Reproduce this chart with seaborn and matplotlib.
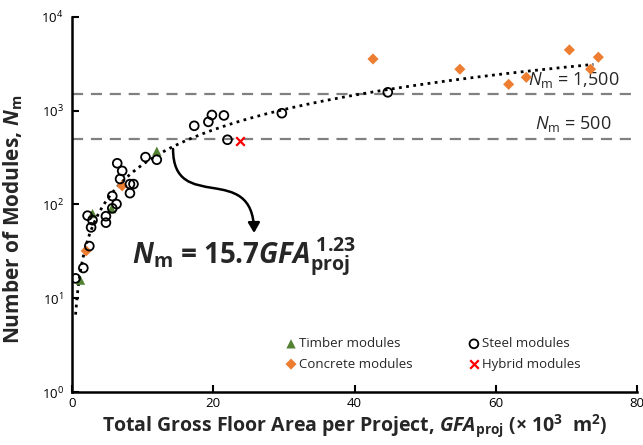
import numpy as np
import pandas as pd
import matplotlib
matplotlib.use("Agg")
import matplotlib.pyplot as plt
import seaborn as sns
from matplotlib.path import Path
from matplotlib.patches import FancyArrowPatch

# ---- data ----
steel_x = [0.5, 1.6, 2.2, 2.45, 2.7, 2.9, 4.8, 4.8, 5.7, 5.7, 6.3, 6.4, 6.8, 7.1,
           8.2, 8.7, 8.2, 10.4, 12.0, 17.3, 19.3, 19.8, 21.5, 22.0, 29.7, 44.7]
steel_y = [16.3, 21, 76, 36, 57, 68, 75, 64, 123, 91, 101, 275, 187, 228,
           165, 165, 132, 320, 300, 690, 760, 900, 890, 490, 940, 1570]
timber_x = [1.2, 2.9, 5.6, 12.0]
timber_y = [15.6, 80, 90, 370]
concrete_x = [2.0, 7.1, 42.6, 54.9, 61.8, 64.3, 70.4, 73.4, 74.5]
concrete_y = [32, 158, 3560, 2770, 1910, 2270, 4450, 2770, 3720]
hybrid_x = [23.8]
hybrid_y = [480]
fit_a, fit_b = 15.7, 1.23
fit_range = (0.5, 73.8)
thresholds = [1500, 500]
threshold_labels = ["1,500", "500"]

sns.set_style("white")
FONT = 'Open Sans'
plt.rcParams['font.family'] = [FONT, 'DejaVu Sans']
plt.rcParams['mathtext.fontset'] = 'custom'
plt.rcParams['mathtext.rm'] = FONT
plt.rcParams['mathtext.it'] = FONT + ':italic'
plt.rcParams['mathtext.bf'] = FONT + ':bold'
plt.rcParams['mathtext.bfit'] = FONT + ':bold:italic'

fig = plt.figure(figsize=(6.43, 4.45), dpi=100)
ax = fig.add_axes([0.112, 0.119, 0.879, 0.843])

# thresholds
for t, lab in zip(thresholds, threshold_labels):
    ax.axhline(t, color='#808080', lw=1.6, ls=(0, (5, 3.5)), zorder=1)
    ax.text(71.0, t * 1.12, r"$N_\mathrm{m}$ = " + lab, fontsize=13, ha='center',
            va='bottom', zorder=2)

# fit
fx = np.linspace(fit_range[0], fit_range[1], 300)
fit_df = pd.DataFrame({"x": fx, "y": fit_a * fx ** fit_b})
sns.lineplot(data=fit_df, x="x", y="y", ax=ax, color='black', lw=2.0, ls=(0, (1, 1.6)), zorder=3)

# scatter
sdf = pd.DataFrame({"x": steel_x, "y": steel_y})
tdf = pd.DataFrame({"x": timber_x, "y": timber_y})
cdf = pd.DataFrame({"x": concrete_x, "y": concrete_y})
hdf = pd.DataFrame({"x": hybrid_x, "y": hybrid_y})
sns.scatterplot(data=tdf, x="x", y="y", ax=ax, marker='^', color='#548235', s=45,
                edgecolor='none', label='Timber modules', zorder=5)
sns.scatterplot(data=cdf, x="x", y="y", ax=ax, marker='D', color='#ED7D31', s=32,
                edgecolor='none', label='Concrete modules', zorder=5)
sns.scatterplot(data=sdf, x="x", y="y", ax=ax, marker='o', facecolor='none',
                edgecolor='black', linewidth=1.3, s=40, label='Steel modules', zorder=6)
sns.scatterplot(data=hdf, x="x", y="y", ax=ax, marker='x', color='red', s=38,
                linewidth=1.6, label='Hybrid modules', zorder=6)

ax.set_yscale('log')
ax.set_xlim(0, 80)
ax.set_ylim(1, 1e4)
ax.set_xticks([0, 20, 40, 60, 80])
ax.set_yticks([1, 10, 100, 1000, 10000])
ax.yaxis.set_minor_locator(matplotlib.ticker.NullLocator())
ax.tick_params(axis='both', direction='in', length=5, width=1.5, labelsize=9.5, colors='black',
               left=True, bottom=True)
ax.tick_params(axis='y', pad=6)
for sp in ['top', 'right']:
    ax.spines[sp].set_visible(False)
for sp in ['left', 'bottom']:
    ax.spines[sp].set_color('black')
    ax.spines[sp].set_linewidth(1.8)

ax.set_xlabel(r"Total Gross Floor Area per Project, $\mathbfit{GFA}_\mathbf{proj}$ (× 10$^\mathbf{3}$  m$^\mathbf{2}$)",
              fontsize=14, fontweight='bold', labelpad=2)
ax.set_ylabel(r"Number of Modules, $\mathbfit{N}_\mathbf{m}$", fontsize=15, fontweight='bold', labelpad=2)
ax.yaxis.set_label_coords(-0.083, 0.46)

leg = ax.legend(loc='upper left', bbox_to_anchor=(0.37, 0.16), ncol=2, frameon=False,
                fontsize=9.5, handlelength=0.7, handletextpad=0.25, columnspacing=4.3,
                labelspacing=0.55, borderaxespad=0)

# equation
ax.text(0.107, 0.36, r"$\mathbfit{N}_\mathbf{m}$ = 15.7$\mathbfit{GFA}_\mathbf{proj}^{\ \mathbf{1.23}}$",
        transform=ax.transAxes, fontsize=20, fontweight='bold', ha='left', va='center')

# curved arrow (S-shape) in axes coordinates
def px2ax(px, py):
    return ((px - 72) / 565.0, (392 - py) / 375.0)
p0 = px2ax(173, 149); p1 = px2ax(173, 215); p2 = px2ax(253, 160); p3 = px2ax(254, 233)
path = Path([p0, p1, p2, p3], [Path.MOVETO, Path.CURVE4, Path.CURVE4, Path.CURVE4])
arrow = FancyArrowPatch(path=path, transform=ax.transAxes, arrowstyle='-|>,head_length=6,head_width=3.5',
                        color='black', lw=1.8, zorder=7)
ax.add_patch(arrow)

fig.savefig("out.png", dpi=100)
